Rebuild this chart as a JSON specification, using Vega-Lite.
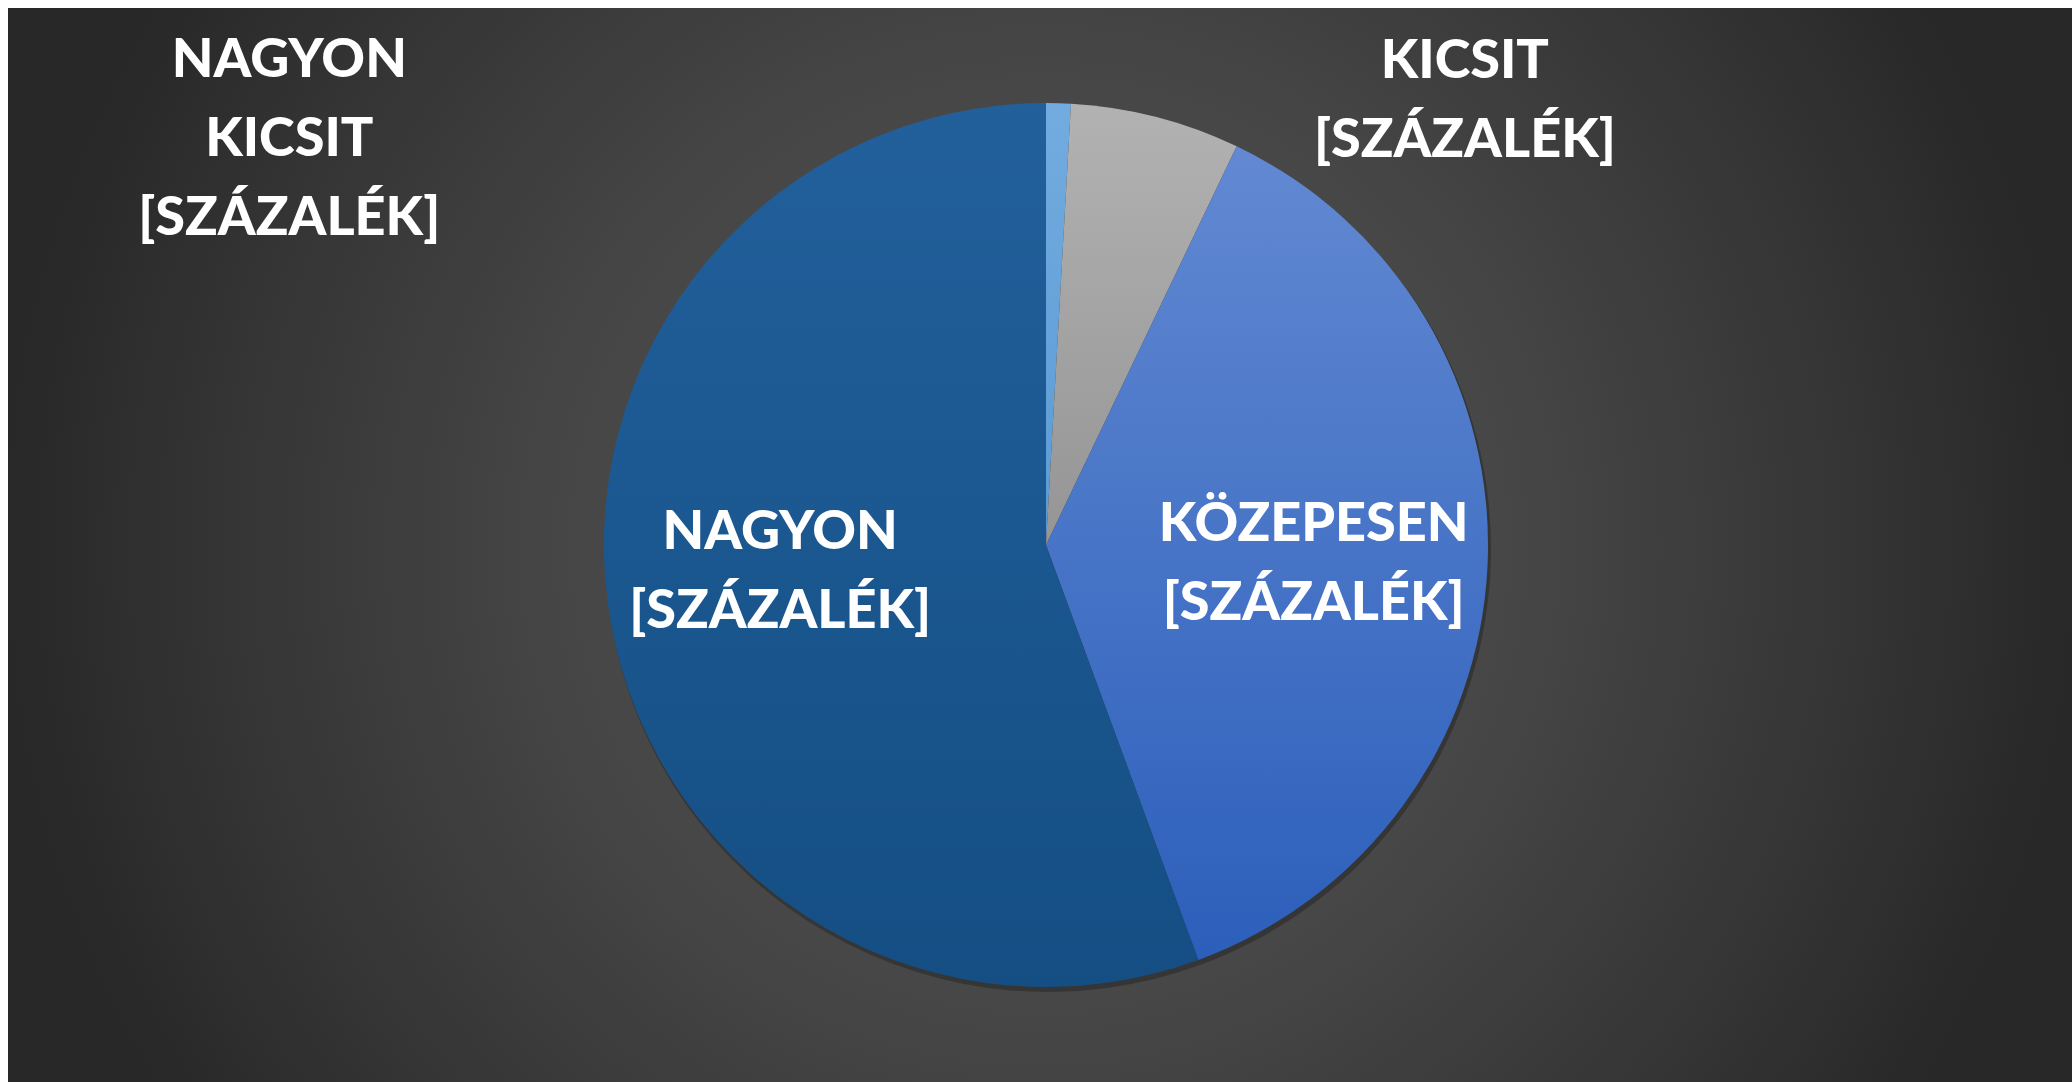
{
  "$schema": "https://vega.github.io/schema/vega-lite/v6.json",
  "width": 2064,
  "height": 1074,
  "autosize": "none",
  "padding": {"top": 8, "left": 8, "right": 0, "bottom": 0},
  "background": "#ffffff",
  "config": {"view": {"stroke": null}},
  "datasets": {
    "slices": [
      {"cat": "Nagyon kicsit", "label": "NAGYON\nKICSIT\n[SZÁZALÉK]", "value": 0.9, "idx": 1},
      {"cat": "Kicsit", "label": "KICSIT\n[SZÁZALÉK]", "value": 6.2, "idx": 2},
      {"cat": "Közepesen", "label": "KÖZEPESEN\n[SZÁZALÉK]", "value": 37.3, "idx": 3},
      {"cat": "Nagyon", "label": "NAGYON\n[SZÁZALÉK]", "value": 55.6, "idx": 4}
    ],
    "bg": [{"name": "background"}]
  },
  "layer": [
    {
      "data": {"name": "bg"},
      "mark": {
        "type": "rect",
        "fill": {
          "gradient": "radial",
          "x1": 0.5, "y1": 0.5, "r1": 0,
          "x2": 0.5, "y2": 0.5, "r2": 0.5,
          "stops": [
            {"offset": 0, "color": "#4d4d4d"},
            {"offset": 0.45, "color": "#474747"},
            {"offset": 0.8, "color": "#343434"},
            {"offset": 1, "color": "#282828"}
          ]
        }
      },
      "encoding": {}
    },
    {
      "data": {"name": "slices"},
      "mark": {"type": "arc", "outerRadius": 443, "xOffset": 8, "yOffset": 4, "fill": "#000000", "opacity": 0.25, "stroke": null},
      "encoding": {
        "theta": {"field": "value", "type": "quantitative", "stack": true},
        "order": {"field": "idx", "type": "quantitative"}
      }
    },
    {
      "data": {"name": "slices"},
      "mark": {"type": "arc", "outerRadius": 442, "xOffset": 6, "stroke": null},
      "encoding": {
        "theta": {"field": "value", "type": "quantitative", "stack": true},
        "order": {"field": "idx", "type": "quantitative"},
        "fill": {
          "condition": [
            {"test": "datum.idx === 1", "value": {"gradient": "linear", "x1": 0, "y1": 0, "x2": 0, "y2": 1, "stops": [{"offset": 0, "color": "#72abdf"}, {"offset": 1, "color": "#5b9bd5"}]}},
            {"test": "datum.idx === 2", "value": {"gradient": "linear", "x1": 0, "y1": 0, "x2": 0, "y2": 1, "stops": [{"offset": 0, "color": "#b2b2b2"}, {"offset": 1, "color": "#959595"}]}},
            {"test": "datum.idx === 3", "value": {"gradient": "linear", "x1": 0, "y1": 0, "x2": 0, "y2": 1, "stops": [{"offset": 0, "color": "#6289d2"}, {"offset": 1, "color": "#2c5fbb"}]}}
          ],
          "value": {"gradient": "linear", "x1": 0, "y1": 0, "x2": 0, "y2": 1, "stops": [{"offset": 0, "color": "#22609c"}, {"offset": 1, "color": "#144e83"}]}
        }
      }
    },
    {
      "data": {"name": "slices"},
      "mark": {"type": "text", "radius": 470, "xOffset": 6, "dx": -770, "dy": -14, "font": "Lato", "fontWeight": 900, "fontSize": 54, "fill": "#ffffff", "lineBreak": "\n", "lineHeight": 79, "align": "center", "baseline": "middle"},
      "encoding": {
        "theta": {"field": "value", "type": "quantitative", "stack": true},
        "order": {"field": "idx", "type": "quantitative"},
        "text": {"condition": {"test": "datum.idx === 1", "field": "label", "type": "nominal"}, "value": ""}
      }
    },
    {
      "data": {"name": "slices"},
      "mark": {"type": "text", "radius": 470, "xOffset": 6, "dx": 302, "dy": -28, "font": "Lato", "fontWeight": 900, "fontSize": 54, "fill": "#ffffff", "lineBreak": "\n", "lineHeight": 79, "align": "center", "baseline": "middle"},
      "encoding": {
        "theta": {"field": "value", "type": "quantitative", "stack": true},
        "order": {"field": "idx", "type": "quantitative"},
        "text": {"condition": {"test": "datum.idx === 2", "field": "label", "type": "nominal"}, "value": ""}
      }
    },
    {
      "data": {"name": "slices"},
      "mark": {"type": "text", "radius": 270, "xOffset": 6, "dx": -2, "dy": -33, "font": "Lato", "fontWeight": 900, "fontSize": 54, "fill": "#ffffff", "lineBreak": "\n", "lineHeight": 79, "align": "center", "baseline": "middle"},
      "encoding": {
        "theta": {"field": "value", "type": "quantitative", "stack": true},
        "order": {"field": "idx", "type": "quantitative"},
        "text": {"condition": {"test": "datum.idx === 3", "field": "label", "type": "nominal"}, "value": ""}
      }
    },
    {
      "data": {"name": "slices"},
      "mark": {"type": "text", "radius": 270, "xOffset": 6, "dx": 0, "dy": -59, "font": "Lato", "fontWeight": 900, "fontSize": 54, "fill": "#ffffff", "lineBreak": "\n", "lineHeight": 79, "align": "center", "baseline": "middle"},
      "encoding": {
        "theta": {"field": "value", "type": "quantitative", "stack": true},
        "order": {"field": "idx", "type": "quantitative"},
        "text": {"condition": {"test": "datum.idx === 4", "field": "label", "type": "nominal"}, "value": ""}
      }
    }
  ]
}
